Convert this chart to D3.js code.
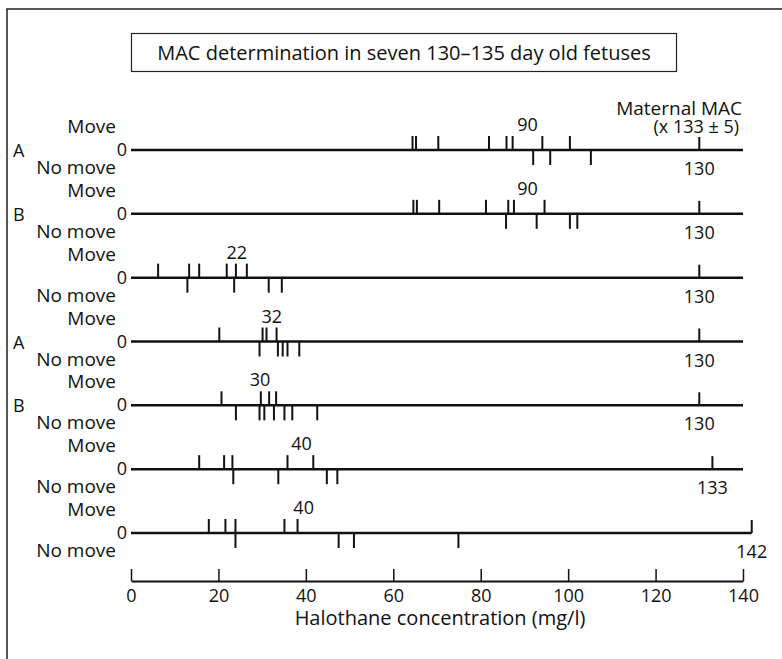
<!DOCTYPE html>
<html>
<head>
<meta charset="utf-8">
<script src="https://cdn.jsdelivr.net/npm/d3@7"></script>
<style>
  body { margin: 0; background: #fff; }
  text { font-family: "Open Sans", "Noto Sans", sans-serif; fill: #111; }
</style>
</head>
<body>
<svg id="chart" width="782" height="659"></svg>
<script>
// --- Data ---
const rowLetters = ["A", "B", "", "A", "B", "", ""];
const macLabels = [90, 90, 22, 32, 30, 40, 40];
const macLabelAt = [90.7, 90.7, 24.2, 32.2, 29.5, 39, 39.5];
const maternalMAC = [130, 130, 130, 130, 130, 133, 142];
const moveValues = [
  [64.4, 65.2, 70.3, 81.9, 85.9, 87.3, 94.1, 100.4],
  [64.6, 65.4, 70.5, 81.2, 86.3, 87.6, 94.6],
  [6.2, 13.3, 15.6, 21.9, 24.0, 26.5],
  [20.2, 30.1, 31.0, 33.3],
  [20.7, 29.7, 31.6, 33.2],
  [15.6, 21.3, 23.2, 35.8, 41.7],
  [17.8, 21.6, 23.9, 35.1, 38.1]
];
const noMoveValues = [
  [92.0, 95.9, 105.2],
  [85.8, 92.8, 100.4, 102.1],
  [12.9, 23.6, 31.5, 34.5],
  [29.4, 33.6, 34.7, 35.8, 38.5],
  [24.0, 29.4, 30.5, 32.7, 35.1, 36.9, 42.6],
  [23.4, 33.7, 44.8, 47.2],
  [23.9, 47.5, 51.0, 74.9]
];
const axisTicks = [0, 20, 40, 60, 80, 100, 120, 140];

const svg = d3.select("#chart");
const width = +svg.attr("width");

// --- Scales ---
const x = d3.scaleLinear().domain([0, 140]).range([131, 743]);
const y = d3.scaleLinear().domain([0, 6]).range([150, 533]);
const rows = d3.range(rowLetters.length);

// --- Frame ---
svg.append("path")
  .attr("d", `M7,659V9H${width}`)
  .attr("fill", "none")
  .attr("stroke", "#222")
  .attr("stroke-width", 1.5);

// --- Title box ---
svg.append("rect")
  .attr("x", 131.5).attr("y", 33.5)
  .attr("width", 545).attr("height", 38)
  .attr("fill", "none").attr("stroke", "#222").attr("stroke-width", 1.2);

svg.append("text")
  .attr("x", 404).attr("y", 60)
  .attr("text-anchor", "middle")
  .attr("font-size", 20)
  .text("MAC determination in seven 130\u2013135 day old fetuses");

// --- Maternal MAC header ---
svg.append("text")
  .attr("x", 742).attr("y", 115)
  .attr("text-anchor", "end")
  .attr("font-size", 19)
  .text("Maternal MAC");
svg.append("text")
  .attr("x", 739).attr("y", 133)
  .attr("text-anchor", "end")
  .attr("font-size", 18)
  .text("(x 133 \u00b1 5)");

// --- Rows ---
const row = svg.selectAll(".row")
  .data(rows)
  .join("g")
  .attr("class", "row")
  .attr("transform", i => `translate(0,${y(i)})`);

row.append("line")
  .attr("x1", x(0))
  .attr("x2", i => x(Math.max(140, maternalMAC[i])))
  .attr("stroke", "#111")
  .attr("stroke-width", 2.5);

row.selectAll(".move")
  .data(i => moveValues[i])
  .join("line")
  .attr("class", "move")
  .attr("x1", d => x(d)).attr("x2", d => x(d))
  .attr("y1", -14).attr("y2", 0)
  .attr("stroke", "#111").attr("stroke-width", 2);

row.selectAll(".nomove")
  .data(i => noMoveValues[i])
  .join("line")
  .attr("class", "nomove")
  .attr("x1", d => x(d)).attr("x2", d => x(d))
  .attr("y1", 0).attr("y2", 15)
  .attr("stroke", "#111").attr("stroke-width", 2);

row.append("line")
  .attr("x1", i => x(maternalMAC[i])).attr("x2", i => x(maternalMAC[i]))
  .attr("y1", -13).attr("y2", 0)
  .attr("stroke", "#111").attr("stroke-width", 2);

row.append("text")
  .attr("x", i => x(maternalMAC[i]))
  .attr("y", 25)
  .attr("text-anchor", "middle")
  .attr("font-size", 18)
  .text(i => maternalMAC[i]);

row.append("text")
  .attr("x", i => x(macLabelAt[i]))
  .attr("y", -19)
  .attr("text-anchor", "middle")
  .attr("font-size", 18)
  .text(i => macLabels[i]);

row.append("text")
  .attr("x", 127).attr("y", 6)
  .attr("text-anchor", "end")
  .attr("font-size", 18)
  .text("0");

row.append("text")
  .attr("x", 116).attr("y", -17)
  .attr("text-anchor", "end")
  .attr("font-size", 19)
  .text("Move");

row.append("text")
  .attr("x", 116).attr("y", 24)
  .attr("text-anchor", "end")
  .attr("font-size", 19)
  .text("No move");

row.append("text")
  .attr("x", 13).attr("y", 7)
  .attr("font-size", 18)
  .text(i => rowLetters[i]);

// --- Concentration axis ---
const axis = svg.append("g")
  .attr("transform", "translate(0,581)")
  .call(d3.axisBottom(x).tickValues(axisTicks).tickSizeInner(-12).tickSizeOuter(0).tickPadding(8));

axis.select(".domain").attr("stroke", "#111").attr("stroke-width", 2);
axis.selectAll(".tick line").attr("stroke", "#111").attr("stroke-width", 1.5);
axis.selectAll(".tick text")
  .attr("font-size", 18)
  .attr("fill", "#111")
  .attr("font-family", "\"Open Sans\", sans-serif");

svg.append("text")
  .attr("x", 440).attr("y", 625)
  .attr("text-anchor", "middle")
  .attr("font-size", 20)
  .text("Halothane concentration (mg/l)");
</script>
</body>
</html>
